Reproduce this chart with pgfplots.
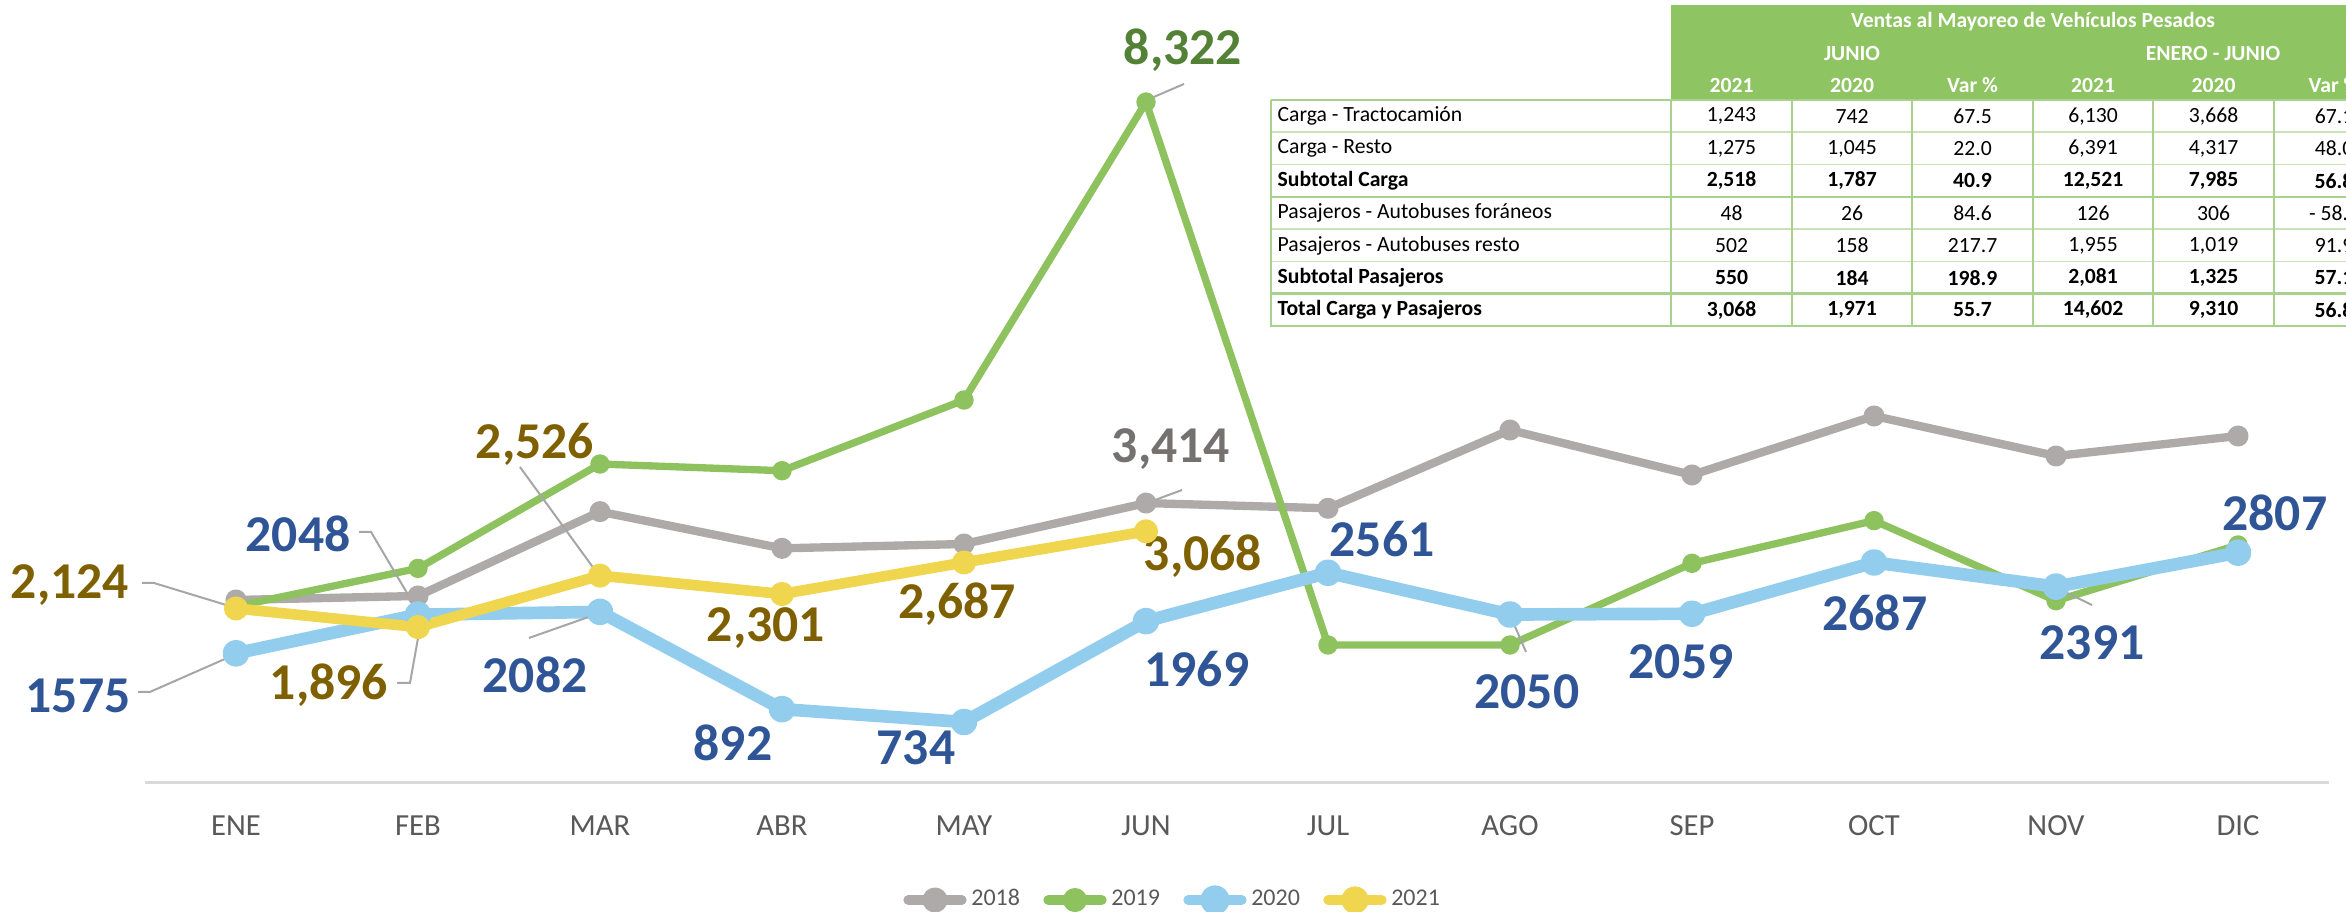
\documentclass[border=0pt]{standalone}
\usepackage{pgfplots}
\usepackage{pgfplotstable}
\pgfplotsset{compat=1.18}
\usepackage{fontspec}
\setmainfont{Carlito}
\definecolor{c18}{HTML}{AEAAAA}
\definecolor{c19}{HTML}{8DC25F}
\definecolor{c20}{HTML}{93CDEE}
\definecolor{c21}{HTML}{EFD64E}
\definecolor{l18}{HTML}{767171}
\definecolor{l19}{HTML}{538135}
\definecolor{l20}{HTML}{2F5597}
\definecolor{l21}{HTML}{7F6000}
\definecolor{tickc}{HTML}{595959}
\definecolor{axisln}{HTML}{D9D9D9}
\definecolor{lead}{HTML}{A6A6A6}
\definecolor{thead}{HTML}{8EC462}
\definecolor{tline}{HTML}{A9D18E}
\definecolor{tlinel}{HTML}{C9E2B8}

\pgfplotstableread{
x y18 y19 y20
0 2228 2150 1575
1 2277 2615 2048
2 3309 3892 2082
3 2860 3810 892
4 2913 4675 734
5 3414 8322 1969
6 3350 1677 2561
7 4308 1677 2050
8 3758 2677 2059
9 4480 3199 2687
10 3990 2219 2391
11 4235 2901 2807
}\dataA
\pgfplotstableread{
x y21
0 2124
1 1896
2 2526
3 2301
4 2687
5 3068
}\dataB

\newcommand\tf{\fontsize{6.5}{7.5}\selectfont}
\newcommand\tfb{\fontsize{6.5}{7.5}\selectfont\bfseries}
\tikzset{lbl/.style={font=\fontsize{15.5}{16}\selectfont\bfseries, inner sep=0pt, anchor=center}}
\newcommand\trow[8]{%
  \node[anchor=west, font=#8, inner sep=0pt] at (1277,#1) {#2};
  \node[font=#8] at (1731.5,#1) {#3};
  \node[font=#8] at (1852,#1) {#4};
  \node[font=#8] at (1972.5,#1) {#5};
  \node[font=#8] at (2093,#1) {#6};
  \node[font=#8] at (2213.5,#1) {#7};
}
\newcommand\tlast[3]{\node[font=#3] at (2334,#1) {#2};}

\begin{document}
\begin{tikzpicture}
\useasboundingbox (0pt,0pt) rectangle (703.8pt,273.3pt);
\clip (0pt,0pt) rectangle (703.8pt,273.3pt);
\begin{axis}[
  at={(43.5pt,38.7pt)}, anchor=south west,
  width=655.2pt, height=220.6pt, scale only axis,
  xmin=-0.5, xmax=11.5, ymin=0, ymax=9000,
  axis x line=bottom, axis y line=none,
  x axis line style={draw=axisln, line width=0.9pt, -},
  xtick={0,...,11},
  xticklabels={ENE,FEB,MAR,ABR,MAY,JUN,JUL,AGO,SEP,OCT,NOV,DIC},
  ytick=\empty,
  major tick length=0pt,
  xticklabel style={font=\fontsize{9.2}{10}\selectfont, text=tickc, yshift=-6.6pt},
  clip=false,
  legend columns=4,
  legend style={at={(0.4716,-0.1605)}, anchor=center, draw=none, fill=none,
    font=\fontsize{7.2}{8}\selectfont, text=tickc,
    /tikz/every odd column/.append style={column sep=-0.6pt},
    /tikz/every even column/.append style={column sep=5pt}},
  legend image code/.code={\draw[line width=3pt, line cap=round, solid] (0pt,0pt) -- (16pt,0pt); \fill (8pt,0pt) circle (2.5pt);},
]
\addplot[color=c18, line width=2.5pt, line join=round, mark=*, mark size=1.9pt] table[x=x,y=y18]{\dataA};
\addlegendentry{2018}
\addplot[color=c19, line width=2.2pt, line join=round, mark=*, mark size=1.8pt] table[x=x,y=y19]{\dataA};
\addlegendentry{2019}
\addplot[color=c20, line width=3.8pt, line join=round, mark=*, mark size=2.1pt] table[x=x,y=y20]{\dataA};
\addlegendentry{2020}
\addplot[color=c21, line width=3.2pt, line join=round, mark=*, mark size=2pt] table[x=x,y=y21]{\dataB};
\addlegendentry{2021}

% leader lines
\draw[lead, line width=0.6pt] (axis cs:-0.538,1102) -- (axis cs:-0.473,1102) -- (axis cs:-0.011,1555);
\draw[lead, line width=0.6pt] (axis cs:0.676,3060) -- (axis cs:0.742,3060) -- (axis cs:1.011,2044);
\draw[lead, line width=0.6pt] (axis cs:0.885,1212) -- (axis cs:0.956,1212) -- (axis cs:1.011,1897);
\draw[lead, line width=0.6pt] (axis cs:-0.516,2436) -- (axis cs:-0.451,2436) -- (axis cs:0,2130);
\draw[lead, line width=0.6pt] (axis cs:1.610,1763) -- (axis cs:2.0,2069);
\draw[lead, line width=0.6pt] (axis cs:1.560,3856) -- (axis cs:2.0,2509);
\draw[lead, line width=0.6pt] (axis cs:5.005,3415) -- (axis cs:5.198,3574);
\draw[lead, line width=0.6pt] (axis cs:5.005,8348) -- (axis cs:5.209,8544);
\draw[lead, line width=0.6pt] (axis cs:7.005,2020) -- (axis cs:7.088,1591);
\draw[lead, line width=0.6pt] (axis cs:10.005,2375) -- (axis cs:10.198,2166);

% labels
\node[lbl, text=l20] at (axis cs:-0.868,1053) {1575};
\node[lbl, text=l20] at (axis cs:0.341,3036) {2048};
\node[lbl, text=l21] at (axis cs:0.511,1187) {1,896};
\node[lbl, text=l21] at (axis cs:-0.912,2411) {2,124};
\node[lbl, text=l20] at (axis cs:1.643,1310) {2082};
\node[lbl, text=l21] at (axis cs:1.643,4137) {2,526};
\node[lbl, text=l20] at (axis cs:2.731,477) {892};
\node[lbl, text=l20] at (axis cs:3.736,416) {734};
\node[lbl, text=l21] at (axis cs:2.912,1885) {2,301};
\node[lbl, text=l21] at (axis cs:3.962,2179) {2,687};
\node[lbl, text=l18] at (axis cs:5.137,4076) {3,414};
\node[lbl, text=l21] at (axis cs:5.313,2766) {3,068};
\node[lbl, text=l20] at (axis cs:5.280,1383) {1969};
\node[lbl, text=l19] at (axis cs:5.203,8960) {8,322};
\node[lbl, text=l20] at (axis cs:6.297,2974) {2561};
\node[lbl, text=l20] at (axis cs:7.093,1102) {2050};
\node[lbl, text=l20] at (axis cs:7.940,1469) {2059};
\node[lbl, text=l20] at (axis cs:9.005,2069) {2687};
\node[lbl, text=l20] at (axis cs:10.198,1701) {2391};
\node[lbl, text=l20] at (axis cs:11.203,3293) {2807};
\end{axis}

% table
\begin{scope}[shift={(0pt,273.3pt)}, x=0.3pt, y=-0.3pt]
  \fill[white] (1271,5) rectangle (2400,326);
  \fill[thead] (1671,5) rectangle (2400,100);
  \foreach \yy in {132.3,164.6,229.2,261.5} {
    \draw[tlinel, line width=0.5pt] (1271,\yy) -- (2400,\yy);
  }
  \foreach \yy in {100,196.9,293.8} {
    \draw[tline, line width=0.8pt] (1271,\yy) -- (2400,\yy);
  }
  \foreach \xx in {1792,1912,2033,2153,2274} {
    \draw[tline, line width=0.5pt] (\xx,100) -- (\xx,326);
  }
  \draw[tline, line width=0.8pt] (1671,100) -- (1671,326);
  \draw[tline, line width=0.8pt] (1271,100) -- (1271,326) -- (2400,326);
  % header
  \node[text=white, font=\tfb] at (2033,22) {Ventas al Mayoreo de Vehículos Pesados};
  \node[text=white, font=\tfb] at (1852,53) {JUNIO};
  \node[text=white, font=\tfb] at (2213,53) {ENERO - JUNIO};
  \node[text=white, font=\tfb] at (1731.5,85) {2021};
  \node[text=white, font=\tfb] at (1852,85) {2020};
  \node[text=white, font=\tfb] at (1972.5,85) {Var \%};
  \node[text=white, font=\tfb] at (2093,85) {2021};
  \node[text=white, font=\tfb] at (2213.5,85) {2020};
  \node[text=white, font=\tfb] at (2334,85) {Var \%};
  % rows
  \trow{116.1}{Carga - Tractocamión}{1,243}{742}{67.5}{6,130}{3,668}{\tf}
  \tlast{116.1}{67.1}{\tf}
  \trow{148.5}{Carga - Resto}{1,275}{1,045}{22.0}{6,391}{4,317}{\tf}
  \tlast{148.5}{48.0}{\tf}
  \trow{180.8}{Subtotal Carga}{2,518}{1,787}{40.9}{12,521}{7,985}{\tfb}
  \tlast{180.8}{56.8}{\tfb}
  \trow{213.1}{Pasajeros - Autobuses foráneos}{48}{26}{84.6}{126}{306}{\tf}
  \tlast{213.1}{- 58.8}{\tf}
  \trow{245.4}{Pasajeros - Autobuses resto}{502}{158}{217.7}{1,955}{1,019}{\tf}
  \tlast{245.4}{91.9}{\tf}
  \trow{277.7}{Subtotal Pasajeros}{550}{184}{198.9}{2,081}{1,325}{\tfb}
  \tlast{277.7}{57.1}{\tfb}
  \trow{310.0}{Total Carga y Pasajeros}{3,068}{1,971}{55.7}{14,602}{9,310}{\tfb}
  \tlast{310.0}{56.8}{\tfb}
\end{scope}
\end{tikzpicture}
\end{document}
